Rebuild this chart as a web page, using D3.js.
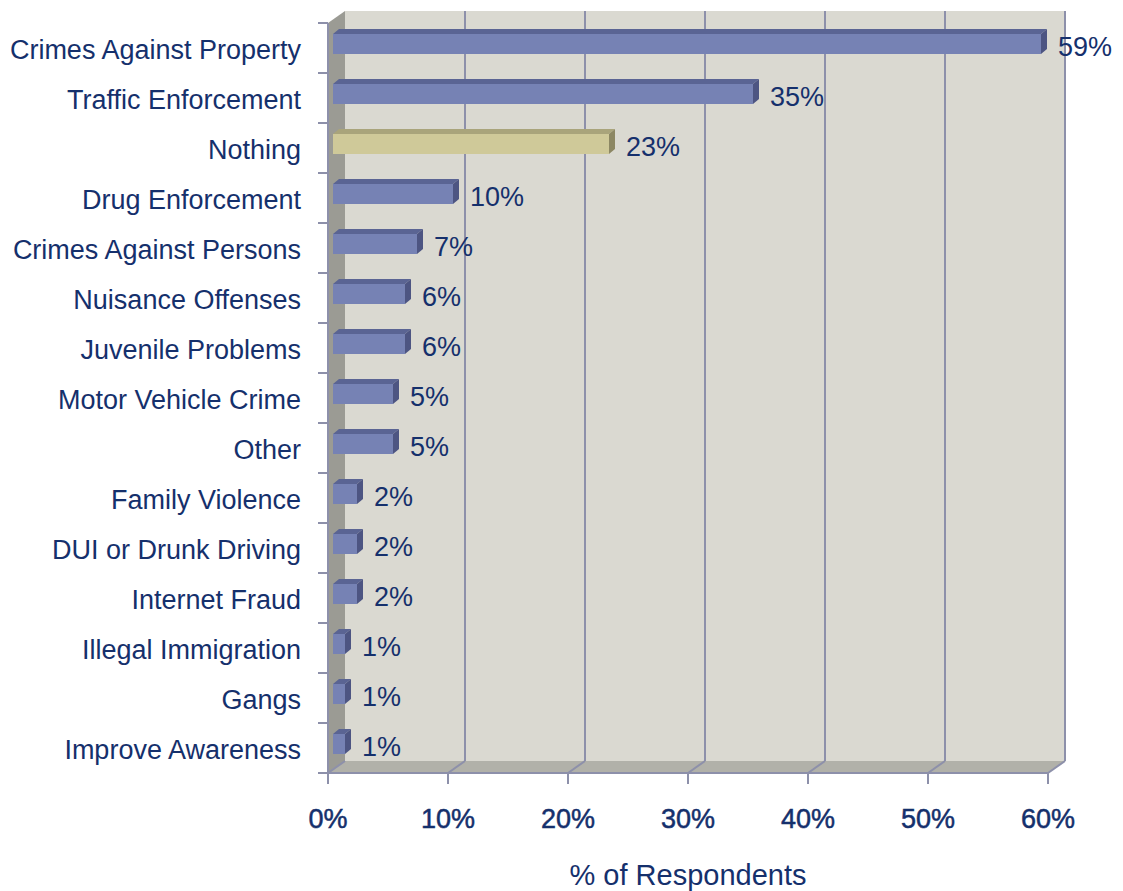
<!DOCTYPE html>
<html>
<head>
<meta charset="utf-8">
<script src="https://cdn.jsdelivr.net/npm/d3@7"></script>
<style>
  html, body { margin: 0; padding: 0; background: #ffffff; }
  svg { display: block; }
  text { font-family: "Liberation Sans", Arial, sans-serif; fill: #15306c; }
</style>
</head>
<body>
<svg id="chart" width="1123" height="891"></svg>
<script>
// Survey results: what respondents think police should focus on
const categories = [
  "Crimes Against Property", "Traffic Enforcement", "Nothing", "Drug Enforcement",
  "Crimes Against Persons", "Nuisance Offenses", "Juvenile Problems",
  "Motor Vehicle Crime", "Other", "Family Violence", "DUI or Drunk Driving",
  "Internet Fraud", "Illegal Immigration", "Gangs", "Improve Awareness"
];
const values = [59, 35, 23, 10, 7, 6, 6, 5, 5, 2, 2, 2, 1, 1, 1];
const highlighted = ["Nothing"];
const tickValues = [0, 10, 20, 30, 40, 50, 60];
const tickLabels = ["0%", "10%", "20%", "30%", "40%", "50%", "60%"];
const axisTitle = "% of Respondents";

const svg = d3.select("#chart");

// front plane scales
const x = d3.scaleLinear().domain([0, 60]).range([328, 1048]);
const y = d3.scaleBand().domain(categories).range([23, 773]).paddingInner(0).paddingOuter(0);

// depth of the chart box (front plane -> back wall)
const wallDX = 17, wallDY = -12;
// depth of each bar and its offset from the front plane
const barOX = 5, barDX = 6, barDY = 5;

const yTop = y.range()[0], yBottom = y.range()[1];
const x0 = x(0), x1 = x(60);

const gridColor = "#8d90aa";
const pts = arr => arr.map(p => p.join(",")).join(" ");

// back wall
svg.append("rect")
  .attr("x", x0 + wallDX).attr("y", yTop + wallDY)
  .attr("width", x1 - x0).attr("height", yBottom - yTop)
  .attr("fill", "#dad9d1");

// left side wall
svg.append("polygon")
  .attr("points", pts([
    [x0, yTop], [x0 + wallDX, yTop + wallDY],
    [x0 + wallDX, yBottom + wallDY], [x0, yBottom]
  ]))
  .attr("fill", "#9b9b94");

// floor
svg.append("polygon")
  .attr("points", pts([
    [x0, yBottom], [x0 + wallDX, yBottom + wallDY],
    [x1 + wallDX, yBottom + wallDY], [x1, yBottom]
  ]))
  .attr("fill", "#b1b1a9");

// gridlines on the back wall and across the floor
const grid = svg.append("g").attr("fill", "none").attr("stroke", gridColor).attr("stroke-width", 2);
tickValues.forEach(t => {
  if (t > 0) {
    grid.append("line")
      .attr("x1", x(t) + wallDX).attr("y1", yTop + wallDY)
      .attr("x2", x(t) + wallDX).attr("y2", yBottom + wallDY);
  }
  grid.append("line")
    .attr("x1", x(t) + wallDX).attr("y1", yBottom + wallDY)
    .attr("x2", x(t)).attr("y2", yBottom);
});

// category axis (left, front edge)
const yAxis = svg.append("g").attr("stroke", gridColor).attr("stroke-width", 2);
yAxis.append("line").attr("x1", x0).attr("y1", yTop).attr("x2", x0).attr("y2", yBottom);
categories.concat([null]).forEach(c => {
  const yy = c === null ? yBottom : y(c);
  yAxis.append("line").attr("x1", x0 - 10).attr("y1", yy).attr("x2", x0).attr("y2", yy);
});

// value axis (bottom, front edge)
const xAxis = svg.append("g").attr("stroke", gridColor).attr("stroke-width", 2);
xAxis.append("line").attr("x1", x0 - 10).attr("y1", yBottom).attr("x2", x1).attr("y2", yBottom);
tickValues.forEach(t => {
  xAxis.append("line").attr("x1", x(t)).attr("y1", yBottom).attr("x2", x(t)).attr("y2", yBottom + 11);
});

// bars
const palette = {
  normal: { front: "#7682b4", top: "#5a6493", side: "#4d5582" },
  hi:     { front: "#cfc999", top: "#a9a47b", side: "#8c8763" }
};
const bars = svg.append("g");
categories.forEach((c, i) => {
  const col = highlighted.includes(c) ? palette.hi : palette.normal;
  const bx = x0 + barOX;
  const bw = x(values[i]) - x0;
  const by = y(c) + 11;
  const bh = 20;
  // top face
  bars.append("polygon")
    .attr("points", pts([[bx, by], [bx + barDX, by - barDY], [bx + bw + barDX, by - barDY], [bx + bw, by]]))
    .attr("fill", col.top);
  // end face
  bars.append("polygon")
    .attr("points", pts([[bx + bw, by], [bx + bw + barDX, by - barDY], [bx + bw + barDX, by + bh - barDY], [bx + bw, by + bh]]))
    .attr("fill", col.side);
  // front face
  bars.append("rect")
    .attr("x", bx).attr("y", by).attr("width", bw).attr("height", bh)
    .attr("fill", col.front);
});

// value labels
svg.append("g").selectAll("text").data(categories).join("text")
  .attr("x", (c, i) => x(values[i]) + 22)
  .attr("y", c => y(c) + 33)
  .attr("font-size", 27)
  .text((c, i) => values[i] + "%");

// category labels
svg.append("g").selectAll("text").data(categories).join("text")
  .attr("x", 301)
  .attr("y", c => y(c) + y.bandwidth() / 2 + 2)
  .attr("dy", "0.35em")
  .attr("text-anchor", "end")
  .attr("font-size", 27)
  .text(c => c);

// tick labels (semi-bold look)
svg.append("g").selectAll("text").data(tickValues).join("text")
  .attr("x", t => x(t))
  .attr("y", 828)
  .attr("text-anchor", "middle")
  .attr("font-size", 27)
  .attr("stroke", "#15306c")
  .attr("stroke-width", 0.5)
  .text((t, i) => tickLabels[i]);

// axis title
svg.append("text")
  .attr("x", (x0 + x1) / 2)
  .attr("y", 885)
  .attr("text-anchor", "middle")
  .attr("font-size", 29)
  .text(axisTitle);
</script>
</body>
</html>
